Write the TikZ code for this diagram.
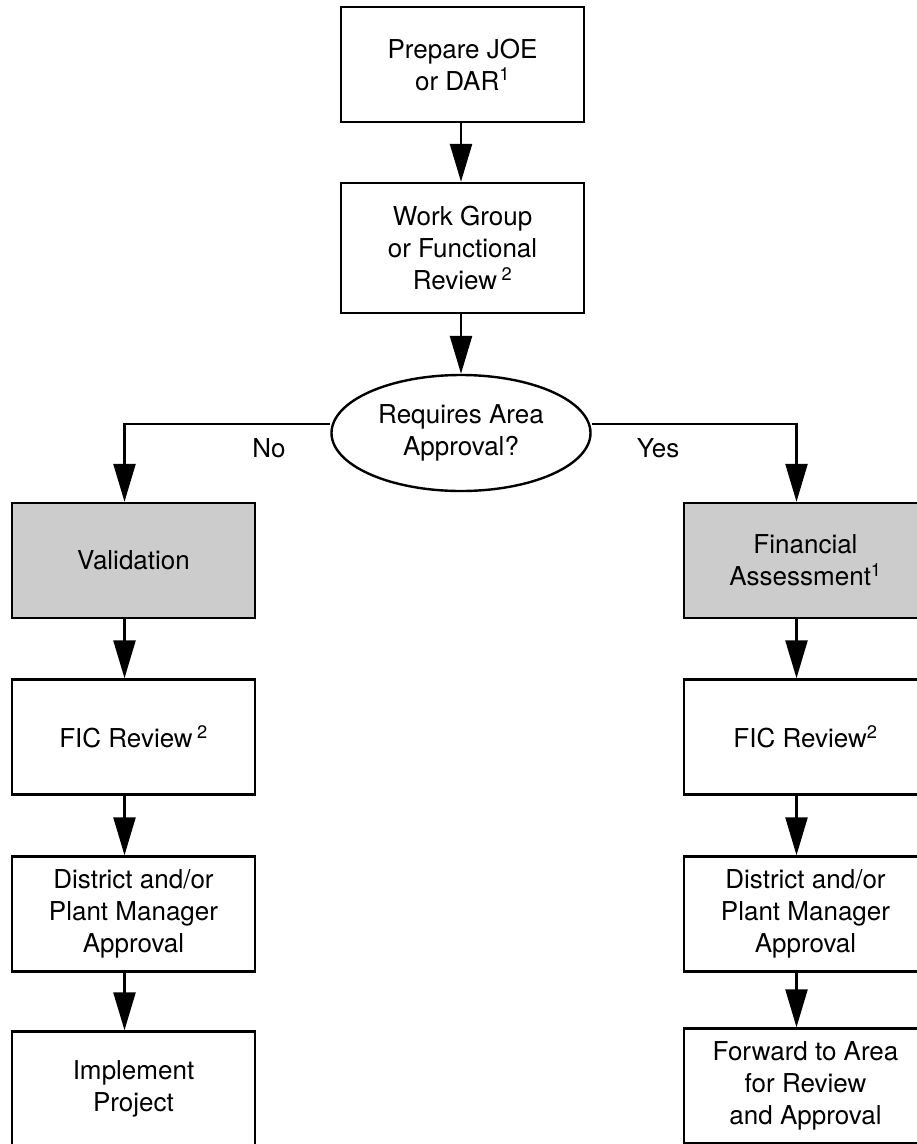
\documentclass[tikz,border=0pt]{standalone}
\usepackage{fontspec}
\setmainfont{TeX Gyre Heros}
\usetikzlibrary{arrows.meta,shapes.geometric}

\definecolor{boxgrey}{gray}{0.8}

\tikzset{
	stepbox/.style={draw, line width=2.4pt, minimum width=243pt, minimum height=115pt,
		inner sep=0pt, align=center, font=\fontsize{26}{32}\selectfont},
	greybox/.style={stepbox, fill=boxgrey},
	askoval/.style={draw, ellipse, line width=2.4pt, minimum width=259pt, minimum height=116pt,
		inner sep=0pt, align=center, font=\fontsize{26}{32}\selectfont},
	flow/.style={line width=2.4pt, -{Triangle[length=38pt,width=22pt]}},
	branchlabel/.style={font=\fontsize{26}{32}\selectfont},
}

\begin{document}
\begin{tikzpicture}[x=1pt,y=-1pt]

\def\lx{133.5}
\def\mx{462.5}
\def\rx{805.5}
\def\off{9}

% page
\useasboundingbox (0,0) rectangle (917,1144);
\clip (0,0) rectangle (917,1144);

% middle column
\node [stepbox] (prep) at (\mx,64.5) {Prepare JOE\\or DAR\textsuperscript{1}};
\node [stepbox, minimum height=130pt] (review) at (\mx,248) {Work Group\\or Functional\\Review\,\textsuperscript{2}};
\node [askoval] (ask) at (461,433) {Requires Area\\Approval?};

% left column
\node [greybox] (valid) at (\lx,560.5) {Validation};
\node [stepbox] (ficl) at (\lx,737) {FIC Review\,\textsuperscript{2}};
\node [stepbox] (distl) at (\lx,914) {District and/or\\Plant Manager\\Approval};
\node [stepbox] (impl) at (\lx,1089) {Implement\\Project};

% right column
\node [greybox] (fin) at (\rx,560.5) {Financial\\Assessment\textsuperscript{1}};
\node [stepbox] (ficr) at (\rx,737) {FIC Review\textsuperscript{2}};
\node [stepbox] (distr) at (\rx,914) {District and/or\\Plant Manager\\Approval};
\node [stepbox] (fwd) at (\rx,1086) {Forward to Area\\for Review\\and Approval};

% decision labels
\node [branchlabel] (no) at (269,448) {No};
\node [branchlabel] (yes) at (658,448) {Yes};

% arrows
\draw [flow] ([xshift=-1.5pt]prep.south) -- ([xshift=-1.5pt]review.north);
\draw [flow] ([xshift=-1.5pt]review.south) -- (ask.north);

\draw [flow] ([yshift=\off pt]ask.west) -| ([xshift=-\off pt]valid.north);
\draw [flow] ([yshift=\off pt]ask.east) -| ([xshift=-\off pt]fin.north);

\draw [flow] ([xshift=-\off pt]valid.south) -- ([xshift=-\off pt]ficl.north);
\draw [flow] ([xshift=-\off pt]ficl.south) -- ([xshift=-\off pt]distl.north);
\draw [flow] ([xshift=-\off pt]distl.south) -- ([xshift=-\off pt]impl.north);

\draw [flow] ([xshift=-\off pt]fin.south) -- ([xshift=-\off pt]ficr.north);
\draw [flow] ([xshift=-\off pt]ficr.south) -- ([xshift=-\off pt]distr.north);
\draw [flow] ([xshift=-\off pt]distr.south) -- ([xshift=-\off pt]fwd.north);

\end{tikzpicture}
\end{document}
